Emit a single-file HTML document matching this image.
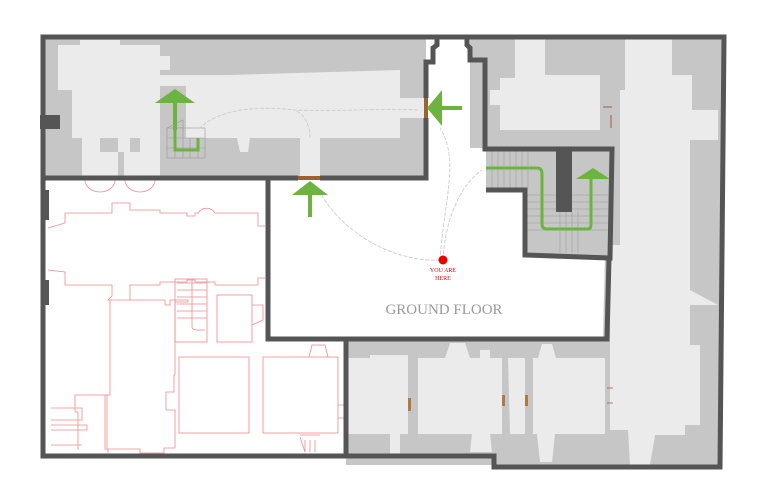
<!DOCTYPE html>
<html><head><meta charset="utf-8"><style>body{margin:0;background:#fff}svg{display:block}</style></head>
<body>
<svg width="767" height="500" viewBox="0 0 767 500" xmlns="http://www.w3.org/2000/svg">
<rect width="767" height="500" fill="#fff"/>
<rect x="43" y="37" width="383" height="141" fill="#c6c6c6"/>
<path d="M58,45 H80 V40 H120 V45 H160 V56 H170 V70 H160 V75 H230 L400,70 V98 H425 V118 H400 V138 H320 V178 H300 V138 H250 L248,152 H240 L237,138 H160 V152 H140 V138 H130 V152 H118 V138 H100 V152 H82 V138 H72 V90 H58 Z" fill="#ebebeb"/>
<rect x="82" y="152" width="36" height="26" fill="#ebebeb"/>
<rect x="124" y="152" width="36" height="26" fill="#ebebeb"/>
<rect x="160" y="86" width="26" height="52" fill="#c6c6c6"/>
<g stroke="#999" stroke-width="0.6" fill="none">
<rect x="167" y="128" width="38" height="30"/><path d="M167,128 L183,120 V158 M175,128 V158 M167,138 H205 M167,148 H205 M190,138 V158 M198,138 V158"/>
</g>
<rect x="470" y="38" width="145" height="110" fill="#c6c6c6"/>
<path d="M515,38 H545 V75 H600 V130 H500 V105 H490 V90 H500 V78 H515 Z" fill="#ebebeb"/>
<path d="M610,38 H724 L720,467 H600 Z" fill="#c6c6c6"/>
<path d="M625,38 H672 V75 H692 V110 H718 V140 H690 V290 L718,305 H690 V345 H700 V425 H685 V435 H655 L650,465 H630 L628,430 H610 V245 H620 V90 H625 Z" fill="#ebebeb"/>
<rect x="346" y="340" width="264" height="125" fill="#c6c6c6"/>
<path d="M348,358 H370 V355 H408 V434 H348 Z" fill="#ebebeb"/>
<path d="M418,358 H445 L450,343 H465 L470,358 H480 V350 H490 V358 H502 V434 H418 Z" fill="#ebebeb"/>
<path d="M508,358 H525 V434 H510 Z" fill="#ebebeb"/>
<path d="M533,358 H538 L542,344 H552 L556,358 H605 V434 H555 L552,462 H540 L537,434 H533 Z" fill="#ebebeb"/>
<rect x="390" y="434" width="10" height="22" fill="#ebebeb"/>
<path d="M472,434 H490 L492,452 H470 Z" fill="#ebebeb"/>
<g fill="#b07a3e"><rect x="408" y="398" width="3" height="13"/><rect x="502" y="395" width="3" height="11"/><rect x="525" y="395" width="3" height="11"/></g>
<path d="M607,388 h6 M607,403 h6" stroke="#a0622d" stroke-width="0.8" fill="none"/>
<path d="M486,149 H612 L610,258 L525,255 V190 H486 Z" fill="#c6c6c6"/>
<g stroke="#999" stroke-width="0.5">
<path d="M492,150 V188 M498,150 V188 M504,150 V188 M510,150 V188 M516,150 V188 M522,150 V188 M528,150 V188"/>
<path d="M527,195 H608 M527,202 H608 M527,209 H608 M527,216 H608 M527,223 H608 M527,230 H608"/>
<path d="M560,212 V253 M566,212 V253 M572,212 V253 M578,212 V253"/>
</g>
<rect x="556" y="150" width="16" height="62" fill="#555"/>
<g stroke="#f08a8a" stroke-width="0.8" fill="none">
<path d="M48,228 L65,223 V213 H112 V203 H130 V210 H160 V213 H187 V216 H195 V213 H198 A10,10 0 0 1 215,213 H258 V226 H265"/>
<path d="M48,270 L65,272 V285 H112 V296 L108,300 H130 V285 H160 V282 H187 V280 H195 V282 H215 V285 H258 V278 H265"/>
<path d="M110,300 V395 H75 V412 H78 V450 M130,300 H165 V305 H170 V300 H188 V302 H175 V375 H174 V392 H166 V410 H175 V448 H164 V453 H140 V449 H108 V453"/>
<path d="M51,408 H82 V420 H51 M51,425 H87 V430 H51 M51,445 H82"/>
<path d="M105,395 V450 M107,395 V450"/>
<rect x="175" y="279" width="32" height="63"/>
<path d="M177,283 H207 M177,290 H207 M177,297 H207 M177,304 H207 M177,311 H207 M177,318 H207 M192,279 V327 Q192,330 197,330 H205"/>
<rect x="217" y="295" width="35" height="47"/>
<path d="M252,305 H263 V320 L252,325"/>
<rect x="179" y="357" width="70" height="76"/>
<rect x="263" y="357" width="75" height="76"/>
<path d="M309,357 L312,345 H325 L328,357 M338,405 H345 M338,418 H345"/>
<path d="M85,180 A15,12 0 0 0 115,180 M125,180 A15,12 0 0 0 155,180"/>
<path d="M300,435 H320 M305,440 V452 M310,440 V452 M315,440 V452 M300,437 L305,452"/>
</g>
<g stroke="#555" stroke-width="5" fill="none" stroke-linejoin="miter">
<path d="M43,37 H724 L720,467 H494 V456 H43 Z"/>
<path d="M43,178 H298 M320,178 H426 V118 M426,98 V62 H433 V48 L437,45 V38"/>
<path d="M467,38 V45 L470,48 V60 H485 V149 H612 L610,258 L525,255 V190 H486"/>
<path d="M268,178 V339 H607 L609,258"/>
<path d="M346,339 V456"/>
</g>
<rect x="40" y="115" width="20" height="14" fill="#555"/>
<rect x="41" y="190" width="8" height="30" fill="#555"/>
<rect x="41" y="280" width="8" height="25" fill="#555"/>
<rect x="298" y="176" width="22" height="4" fill="#a0622d"/>
<rect x="424" y="98" width="4" height="20" fill="#a0622d"/>
<path d="M612,107 h-9 M611,115 v13" stroke="#a0622d" stroke-width="1" fill="none"/>
<g stroke="#ccc" stroke-width="0.9" fill="none" stroke-dasharray="4,1.5">
<path d="M440,260 C400,262 350,240 322,196"/>
<path d="M440,260 C444,200 460,160 440,128"/>
<path d="M443,260 C445,220 460,185 482,170"/>
<path d="M418,110 C380,108 330,112 295,110 C260,106 220,108 200,128"/>
<path d="M310,138 C310,125 305,115 295,110"/>
</g>
<g fill="#6db33f">
<polygon points="155,103 175,89 195,103"/><rect x="173" y="103" width="4" height="27"/>
<path d="M175,128 V150 H198 V138" stroke="#6db33f" stroke-width="3" fill="none"/>
<polygon points="292,195 310,181 328,195"/><rect x="308" y="195" width="4" height="22"/>
<polygon points="427,108 442,90 442,126"/><rect x="442" y="106" width="20" height="4"/>
<polygon points="576,179 593,168 610,179"/>
<path d="M486,168 H537 Q542,168 542,174 V224 Q542,229 547,229 H588 Q591,229 591,224 V179" stroke="#6db33f" stroke-width="3" fill="none"/>
</g>
<circle cx="443" cy="260" r="4.5" fill="#e00"/>
<text x="443" y="272" font-family="Liberation Serif, serif" font-size="6" fill="#e00" text-anchor="middle">YOU ARE</text>
<text x="443" y="280" font-family="Liberation Serif, serif" font-size="6" fill="#e00" text-anchor="middle">HERE</text>
<text x="444" y="314" font-family="Liberation Serif, serif" font-size="15" fill="#999" text-anchor="middle">GROUND FLOOR</text>
</svg>
</body></html>
